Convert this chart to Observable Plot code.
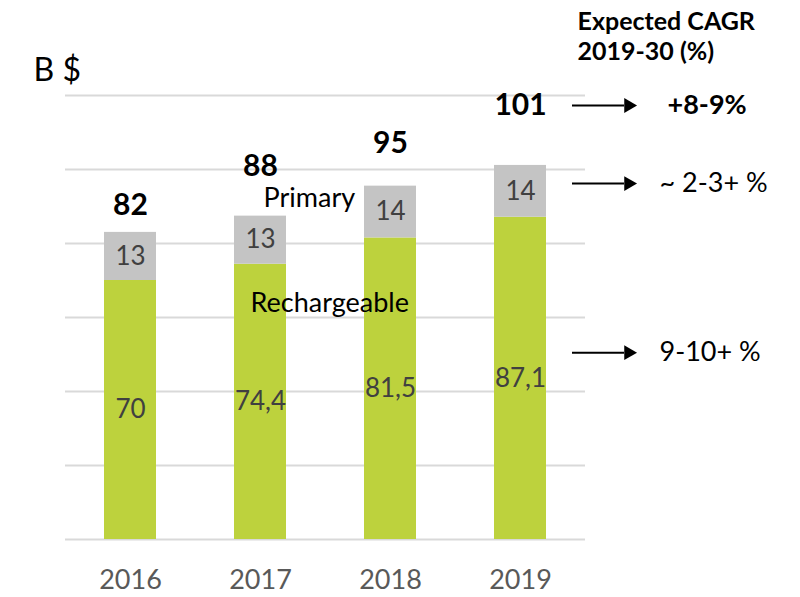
<!DOCTYPE html>
<html><head><meta charset="utf-8">
<script src="https://cdn.jsdelivr.net/npm/d3@7"></script>
<script src="https://cdn.jsdelivr.net/npm/@observablehq/plot@0.6"></script>
<style>body{margin:0;background:#fff}</style>
</head><body><div id="chart"></div>
<script>
// ---- data ----
const years = ["2016", "2017", "2018", "2019"];
const rechargeable = [70, 74.4, 81.5, 87.1];
const primary = [13, 13, 14, 14];
const totals = [82, 88, 95, 101];
const series = ["Rechargeable", "Primary"];
const yTicks = [0, 20, 40, 60, 80, 100, 120];
const unitLabel = "B $";
const cagrHeader = "Expected CAGR\n2019-30 (%)";
const cagrLabels = ["+8-9%", "~ 2-3+ %", "9-10+ %"];
const cagrLevels = [117.3, 96.2, 50.5];   // y value each CAGR row points at
const seriesLabelLevels = [63.8, 92.3];    // y value of the in-chart series names

// ---- tables built from the arrays ----
const rows = [];
years.forEach((y, i) => {
  rows.push({year: y, series: series[0], value: rechargeable[i]});
  rows.push({year: y, series: series[1], value: primary[i]});
});
const totalRows = years.map((y, i) => ({year: y, total: totals[i], i}));
const cagrRows = cagrLabels.map((t, i) => ({label: t, level: cagrLevels[i], i}));
const seriesRows = series.map((s, i) => ({name: s, level: seriesLabelLevels[i], i}));

const fmt = v => String(v).replace(".", ",");
const totalLift = [8.3, 12.8, 12, 16.3];
const FONT = "Lato, 'Open Sans', sans-serif";

const chart = Plot.plot({
  width: 800,
  height: 597,
  marginTop: 95,
  marginRight: 215,
  marginBottom: 58,
  marginLeft: 65,
  style: {fontFamily: FONT, background: "#fff", overflow: "visible"},
  x: {domain: years, paddingInner: 0.6, paddingOuter: 0.3, label: null},
  y: {domain: [0, 120], axis: null},
  color: {domain: series, range: ["#bdd23d", "#c4c4c4"]},
  marks: [
    Plot.ruleY(yTicks, {stroke: "#d9d9d9", strokeWidth: 2}),
    Plot.barY(rows, {x: "year", y: "value", fill: "series"}),
    Plot.text(rows, Plot.stackY({
      x: "year", y: "value", text: d => fmt(d.value),
      fill: "#404040", fontSize: 26
    })),
    Plot.text(totalRows, {
      x: "year", y: d => d.total + totalLift[d.i], text: d => String(d.total),
      fontSize: 30, fontWeight: "bold", fill: "#000"
    }),
    Plot.text(seriesRows.filter(d => d.i === 0), {
      x: () => "2017", y: "level", text: "name",
      textAnchor: "start", dx: -10, fontSize: 27, fill: "#000"
    }),
    Plot.text(seriesRows.filter(d => d.i === 1), {
      x: () => "2017", y: "level", text: "name",
      textAnchor: "start", dx: 3, fontSize: 27, fill: "#000"
    }),
    // CAGR arrows
    Plot.tickY(cagrRows, {x: () => "2019", y: "level", dx: 78, stroke: "#000", strokeWidth: 2}),
    Plot.dot(cagrRows, {x: () => "2019", y: "level", dx: 108, symbol: "triangle", rotate: 90, r: 5.5, fill: "#000", stroke: "none"}),
    Plot.text(cagrRows.filter(d => d.i === 0), {
      x: () => "2019", y: "level", text: "label", textAnchor: "start", dx: 147,
      fontSize: 27, fontWeight: "bold", fill: "#000"
    }),
    Plot.text(cagrRows.filter(d => d.i > 0), {
      x: () => "2019", y: "level", text: "label", textAnchor: "start", dx: 139,
      fontSize: 27, fill: "#000"
    }),
    Plot.text([cagrHeader], {
      x: () => "2019", frameAnchor: "top", lineAnchor: "middle", text: d => d, textAnchor: "start",
      dx: 57, dy: -60, lineHeight: 1.2, fontSize: 25, fontWeight: "bold", fill: "#000"
    }),
    Plot.text([unitLabel], {
      frameAnchor: "top-left", lineAnchor: "middle", text: d => d, textAnchor: "start",
      dx: -32, dy: -25, fontSize: 32, fill: "#000"
    }),
    Plot.axisX({tickSize: 0, tickPadding: 30, fontSize: 27, color: "#595959", label: null})
  ]
});
document.getElementById("chart").appendChild(chart);
</script>
</body></html>
